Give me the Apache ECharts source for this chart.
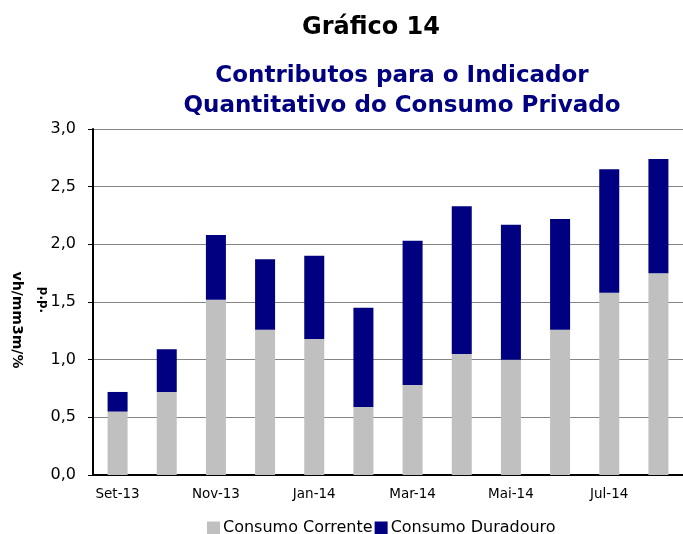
<!DOCTYPE html>
<html lang="pt">
<head>
  <meta charset="utf-8">
</head>
<body style="height: 100%; margin: 0">
  <div id="container" style="width: 683px; height: 534px"></div>

  <script type="text/javascript" src="https://cdn.jsdelivr.net/npm/echarts@6/dist/echarts.min.js"></script>

  <script type="text/javascript">
    // meses (rótulos só em meses alternados)
    var meses = ['Set-13', 'Out-13', 'Nov-13', 'Dez-13', 'Jan-14', 'Fev-14',
                 'Mar-14', 'Abr-14', 'Mai-14', 'Jun-14', 'Jul-14', 'Ago-14'];
    var corrente   = [0.55, 0.72, 1.52, 1.26, 1.18, 0.59, 0.78, 1.05, 1.00, 1.26, 1.58, 1.75];
    var duradouro  = [0.17, 0.37, 0.56, 0.61, 0.72, 0.86, 1.25, 1.28, 1.17, 0.96, 1.07, 0.99];

    var fonte = 'DejaVu Sans';

    var dom = document.getElementById('container');
    var myChart = echarts.init(dom, null, { renderer: 'canvas' });

    var option = {
      animation: false,
      backgroundColor: '#ffffff',
      title: [
        {
          text: 'Gráfico 14',
          left: 366, top: 11,
          textAlign: 'center',
          textStyle: { fontFamily: fonte, fontSize: 24, fontWeight: 'bold', color: '#000000' }
        },
        {
          text: 'Contributos para o Indicador\nQuantitativo do Consumo Privado',
          left: 397, top: 56,
          textAlign: 'center',
          textStyle: { fontFamily: fonte, fontSize: 23, fontWeight: 'bold', color: '#000080', lineHeight: 30 }
        }
      ],
      legend: {
        data: ['Consumo Corrente', 'Consumo Duradouro'],
        left: 202, top: 515,
        itemWidth: 13, itemHeight: 13, itemGap: 2,
        icon: 'rect',
        textStyle: { fontFamily: fonte, fontSize: 16, color: '#000', padding: [0, 0, 0, -2] }
      },
      grid: { left: 93, right: -6, top: 129, bottom: 59 },
      xAxis: {
        type: 'category',
        data: meses,
        axisLine: { lineStyle: { color: '#000', width: 2 } },
        axisTick: { interval: 1, length: 5, lineStyle: { color: '#000', width: 1 } },
        axisLabel: { interval: 1, margin: 12, fontFamily: fonte, fontSize: 13.5, color: '#000' }
      },
      yAxis: {
        type: 'value',
        min: 0, max: 3, interval: 0.5,
        axisLine: { show: true, lineStyle: { color: '#000', width: 2 } },
        axisTick: { show: true, length: 5, lineStyle: { color: '#000' } },
        splitLine: { lineStyle: { color: '#858585', width: 1 } },
        axisLabel: {
          margin: 17, fontFamily: fonte, fontSize: 16, color: '#000',
          formatter: function (v) { return v.toFixed(1).replace('.', ','); }
        }
      },
      graphic: [
        {
          type: 'text', x: 17, y: 320, rotation: -Math.PI / 2,
          style: { text: 'vh/mm3m/%', font: 'bold 14px "DejaVu Sans"', fill: '#000', align: 'center', verticalAlign: 'middle' }
        },
        {
          type: 'text', x: 43, y: 300, rotation: -Math.PI / 2,
          style: { text: 'p.p.', font: 'bold 12px "DejaVu Sans"', fill: '#000', align: 'center', verticalAlign: 'middle' }
        }
      ],
      series: [
        {
          name: 'Consumo Corrente',
          type: 'bar',
          stack: 'total',
          barWidth: 20,
          itemStyle: { color: '#c0c0c0' },
          data: corrente
        },
        {
          name: 'Consumo Duradouro',
          type: 'bar',
          stack: 'total',
          barWidth: 20,
          itemStyle: { color: '#000080' },
          data: duradouro
        }
      ]
    };

    myChart.setOption(option);
    window.addEventListener('resize', myChart.resize);
  </script>
</body>
</html>
